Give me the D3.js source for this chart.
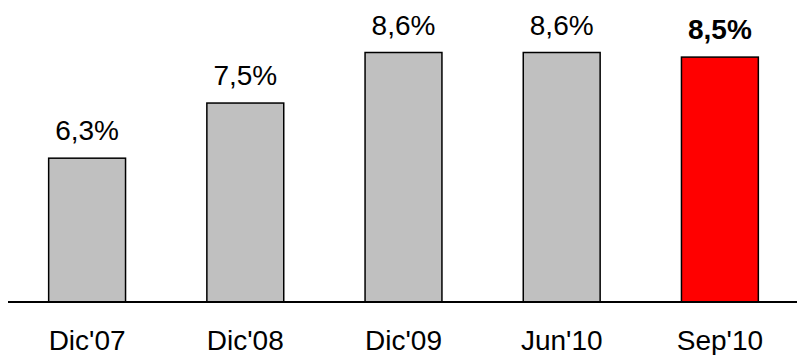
<!DOCTYPE html>
<html>
<head>
<meta charset="utf-8">
<script src="https://cdn.jsdelivr.net/npm/d3@7"></script>
<style>
  html, body { margin: 0; padding: 0; background: #fff; }
  svg { display: block; }
  text { font-family: "Liberation Sans", Arial, sans-serif; fill: #000; }
</style>
</head>
<body>
<svg id="chart" width="798" height="355"></svg>
<script>
// Periods and ratio values (%)
const categories = ["Dic'07", "Dic'08", "Dic'09", "Jun'10", "Sep'10"];
const values = [6.3, 7.5, 8.6, 8.6, 8.5];
const valueLabels = ["6,3%", "7,5%", "8,6%", "8,6%", "8,5%"];
const highlighted = ["Sep'10"];

const svg = d3.select("#chart");
const baseline = 302;

const x = d3.scaleBand()
  .domain(categories)
  .range([8, 799])
  .paddingInner(0.514)
  .paddingOuter(0.257);

const y = d3.scaleLinear()
  .domain([3.17, 8.6])
  .range([baseline, 52.5]);

const data = categories.map((c, i) => ({ cat: c, v: values[i], label: valueLabels[i] }));

// Bars
svg.append("g")
  .selectAll("rect")
  .data(data)
  .join("rect")
  .attr("x", d => x(d.cat))
  .attr("y", d => y(d.v))
  .attr("width", x.bandwidth())
  .attr("height", d => baseline - y(d.v))
  .attr("fill", d => highlighted.includes(d.cat) ? "#ff0000" : "#c0c0c0")
  .attr("stroke", "#000")
  .attr("stroke-width", 1.5);

// Baseline axis
const xAxis = d3.axisBottom(x).tickSize(0).tickPadding(0);
const axisG = svg.append("g")
  .attr("transform", `translate(0,${baseline})`)
  .call(xAxis);
axisG.select(".domain")
  .attr("d", `M8,0H797`)
  .attr("stroke", "#000")
  .attr("stroke-width", 2);
axisG.selectAll(".tick text")
  .attr("y", 48)
  .attr("dy", null)
  .attr("font-size", 28)
  .attr("font-family", "'Liberation Sans', Arial, sans-serif")
  .attr("fill", "#000");

// Value labels
svg.append("g")
  .selectAll("text")
  .data(data)
  .join("text")
  .attr("x", d => x(d.cat) + x.bandwidth() / 2)
  .attr("y", d => y(d.v) - 18)
  .attr("text-anchor", "middle")
  .attr("font-size", 28)
  .attr("font-weight", d => highlighted.includes(d.cat) ? "bold" : "normal")
  .text(d => d.label);
</script>
</body>
</html>
